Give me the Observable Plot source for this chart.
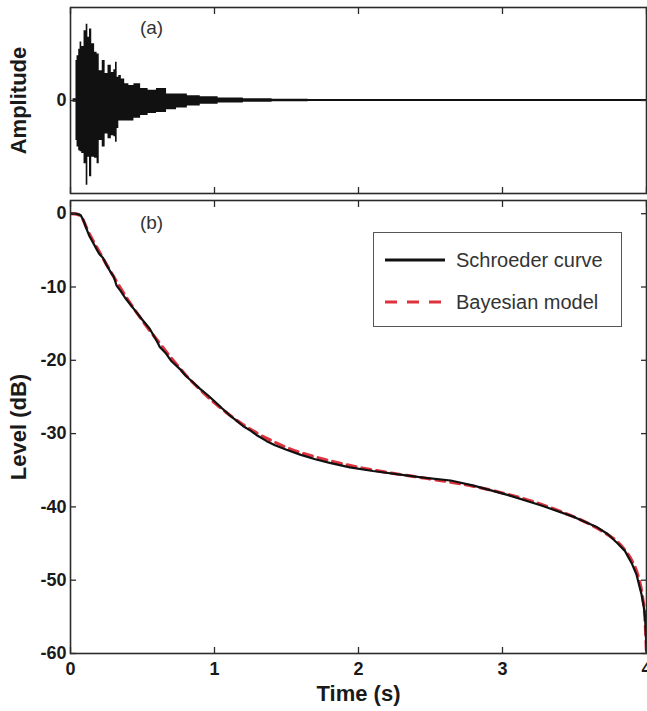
<!DOCTYPE html>
<html><head><meta charset="utf-8">
<script src="https://cdn.jsdelivr.net/npm/d3@7"></script>
<script src="https://cdn.jsdelivr.net/npm/@observablehq/plot@0.6"></script>
<style>
body{margin:0;background:#fff;}
#wrap{position:relative;width:647px;height:711px;font-family:"Liberation Sans",Arial,sans-serif;overflow:hidden;}
#top,#bot{position:absolute;left:0;}
#top{top:0}
#bot{top:196px}
#legend{position:absolute;left:373px;top:232px;width:249px;height:95px;border:1.5px solid #555;background:#fff;box-sizing:border-box}
</style></head><body>
<div id="wrap"><div id="top"></div><div id="bot"></div><div id="legend"></div></div>
<script>
// (a) impulse response: envelope (time in s, amplitude normalised)
const irTime  = [0, 0.036, 0.040, 0.051, 0.063, 0.070, 0.086, 0.102, 0.116, 0.125, 0.139, 0.156, 0.179, 0.190, 0.209, 0.232, 0.249, 0.272, 0.295, 0.307, 0.318, 0.330, 0.341, 0.365, 0.388, 0.423, 0.458, 0.516, 0.562, 0.632, 0.702, 0.771, 0.852, 0.95, 1.1, 1.3, 1.5, 1.8, 2.2, 2.6, 3.0, 3.5, 4.0];
const irUpper = [0, 0.02, 0.43, 0.48, 0.55, 0.63, 0.58, 0.75, 0.82, 0.68, 0.77, 0.61, 0.52, 0.50, 0.32, 0.43, 0.29, 0.38, 0.30, 0.33, 0.41, 0.25, 0.27, 0.23, 0.18, 0.16, 0.18, 0.13, 0.11, 0.13, 0.07, 0.07, 0.05, 0.04, 0.028, 0.018, 0.014, 0.012, 0.012, 0.012, 0.012, 0.012, 0.012];
const irLower = [0, -0.02, -0.43, -0.50, -0.54, -0.55, -0.57, -0.68, -0.91, -0.61, -0.82, -0.61, -0.62, -0.68, -0.43, -0.50, -0.36, -0.41, -0.38, -0.39, -0.45, -0.30, -0.22, -0.22, -0.22, -0.22, -0.19, -0.16, -0.14, -0.13, -0.10, -0.08, -0.06, -0.04, -0.028, -0.018, -0.014, -0.012, -0.012, -0.012, -0.012, -0.012, -0.012];

// (b) Schroeder decay curve (dB)
const schTime  = [0, 0.04, 0.07, 0.09, 0.11, 0.13, 0.155, 0.18, 0.20, 0.225, 0.25, 0.28, 0.30, 0.32, 0.35, 0.38, 0.42, 0.46, 0.50, 0.55, 0.60, 0.62, 0.66, 0.70, 0.76, 0.80, 0.85, 0.90, 0.95, 1.00, 1.05, 1.10, 1.15, 1.20, 1.25, 1.30, 1.36, 1.42, 1.50, 1.60, 1.70, 1.80, 1.94, 2.10, 2.29, 2.45, 2.64, 2.80, 3.04, 3.27, 3.50, 3.65, 3.73, 3.80, 3.85, 3.90, 3.93, 3.965, 3.98, 3.99, 3.995, 4.00];
const schLevel = [0, 0, -0.2, -0.9, -2.0, -3.0, -3.9, -4.8, -5.5, -6.0, -7.0, -8.0, -8.6, -9.8, -10.6, -11.5, -12.5, -13.5, -14.5, -15.7, -17.4, -18.2, -19.0, -20.1, -21.2, -22.1, -23.0, -23.9, -24.7, -25.6, -26.5, -27.4, -28.2, -29.0, -29.6, -30.3, -31.0, -31.6, -32.2, -32.9, -33.5, -34.0, -34.6, -35.1, -35.6, -36.0, -36.4, -37.1, -38.4, -39.8, -41.4, -42.7, -43.7, -45.0, -46.0, -47.8, -49.2, -51.9, -53.5, -55.0, -57.0, -59.8];

// (b) Bayesian model (dB)
const bayTime  = [0, 0.05, 0.08, 0.12, 0.2, 0.3, 0.4, 0.5, 0.6, 0.7, 0.8, 0.9, 1.0, 1.1, 1.2, 1.3, 1.4, 1.5, 1.6, 1.8, 2.0, 2.2, 2.4, 2.6, 2.8, 3.0, 3.2, 3.4, 3.6, 3.7, 3.8, 3.85, 3.9, 3.94, 3.97, 3.99, 4.0];
const bayLevel = [0, -0.1, -0.6, -2.3, -5.2, -8.6, -11.8, -14.6, -17.2, -19.7, -22.0, -24.0, -25.8, -27.4, -28.8, -30.0, -31.0, -31.9, -32.6, -33.7, -34.6, -35.3, -35.9, -36.5, -37.2, -38.1, -39.2, -40.6, -42.3, -43.4, -44.8, -45.9, -47.4, -49.3, -52.0, -55.5, -60.0];

const timeTicks  = [0, 1, 2, 3, 4];
const levelTicks = [0, -10, -20, -30, -40, -50, -60];
const ampTicks   = [0];
const seriesNames = ["Schroeder curve", "Bayesian model"];
const panelLabels = ["(a)", "(b)"];
const ampTitle = "Amplitude";
const levelTitle = "Level (dB)";
const timeTitle = "Time (s)";

const ink = "#2b2b2b";
const red = "#e0323c";
const fmt = d => String(d);
const blank = () => "";

const common = {
  width: 647, marginLeft: 70, marginRight: 1,
  x: {domain: [0, 4], label: null},
  style: {fontFamily: '"Liberation Sans", Arial, sans-serif', fontSize: "18px", fontWeight: "bold", color: "#1a1a1a", background: "transparent", overflow: "visible"}
};

const ir = irTime.map((t, i) => ({t, lo: irLower[i], hi: irUpper[i]}));
const sch = schTime.map((t, i) => ({t, L: schLevel[i]}));
const bay = bayTime.map((t, i) => ({t, L: bayLevel[i]}));

const titleOpts = {text: d => d, frameAnchor: "left", dx: -52, rotate: -90, fontSize: 22, textAnchor: "middle", lineAnchor: "middle"};

const topPlot = Plot.plot({
  ...common, height: 196, marginTop: 7, marginBottom: 3,
  y: {domain: [-1, 1], label: null},
  marks: [
    Plot.areaY(ir, {x: "t", y1: "lo", y2: "hi", fill: "#111", curve: "step"}),
    Plot.axisX(timeTicks, {anchor: "bottom", tickSize: -6, tickFormat: blank, stroke: ink, strokeWidth: 1.3}),
    Plot.axisX(timeTicks, {anchor: "top", tickSize: -6, tickFormat: blank, stroke: ink, strokeWidth: 1.3}),
    Plot.axisY(ampTicks, {anchor: "left", tickSize: -6, tickPadding: 10, tickFormat: fmt, stroke: ink, strokeWidth: 1.3}),
    Plot.axisY(ampTicks, {anchor: "right", tickSize: -6, tickFormat: blank, stroke: ink, strokeWidth: 1.3}),
    Plot.frame({stroke: ink, strokeWidth: 1.6}),
    Plot.text([panelLabels[0]], {text: d => d, frameAnchor: "top-left", dx: 81, dy: 20, textAnchor: "middle", lineAnchor: "middle", fontWeight: "normal", fontSize: 19, fill: "#333"}),
    Plot.text([ampTitle], titleOpts)
  ]
});

const botPlot = Plot.plot({
  ...common, height: 515, marginTop: 4, marginBottom: 58,
  y: {domain: [-60, 1.8], label: null},
  marks: [
    Plot.line(bay, {x: "t", y: "L", stroke: red, strokeWidth: 3.2, strokeDasharray: "9,6", curve: "monotone-x", clip: true}),
    Plot.line(sch, {x: "t", y: "L", stroke: "#111", strokeWidth: 2.2, clip: true}),
    Plot.axisX(timeTicks, {anchor: "bottom", tickSize: -6, tickPadding: 15, tickFormat: fmt, stroke: ink, strokeWidth: 1.3}),
    Plot.axisX(timeTicks, {anchor: "top", tickSize: -6, tickFormat: blank, stroke: ink, strokeWidth: 1.3}),
    Plot.axisY(levelTicks, {anchor: "left", tickSize: -6, tickPadding: 10, tickFormat: fmt, stroke: ink, strokeWidth: 1.3}),
    Plot.axisY(levelTicks, {anchor: "right", tickSize: -6, tickFormat: blank, stroke: ink, strokeWidth: 1.3}),
    Plot.frame({stroke: ink, strokeWidth: 1.6}),
    Plot.text([panelLabels[1]], {text: d => d, frameAnchor: "top-left", dx: 81, dy: 22, textAnchor: "middle", lineAnchor: "middle", fontWeight: "normal", fontSize: 19, fill: "#333"}),
    Plot.text([levelTitle], titleOpts),
    Plot.text([timeTitle], {text: d => d, frameAnchor: "bottom", dy: 40, fontSize: 22, textAnchor: "middle", lineAnchor: "middle"})
  ]
});

document.getElementById("top").appendChild(topPlot);
document.getElementById("bot").appendChild(botPlot);

// legend inside panel (b)
const ns = "http://www.w3.org/2000/svg";
const lg = document.createElementNS(ns, "svg");
lg.setAttribute("width", 246); lg.setAttribute("height", 92);
const styles = [{stroke: "#111", dash: null, w: 3}, {stroke: red, dash: "12,10", w: 3}];
seriesNames.forEach((name, i) => {
  const y = 27 + i * 42;
  const ln = document.createElementNS(ns, "line");
  ln.setAttribute("x1", 11); ln.setAttribute("x2", 71);
  ln.setAttribute("y1", y); ln.setAttribute("y2", y);
  ln.setAttribute("stroke", styles[i].stroke); ln.setAttribute("stroke-width", styles[i].w);
  if (styles[i].dash) ln.setAttribute("stroke-dasharray", styles[i].dash);
  lg.appendChild(ln);
  const tx = document.createElementNS(ns, "text");
  tx.setAttribute("x", 82); tx.setAttribute("y", y);
  tx.setAttribute("dominant-baseline", "central");
  tx.setAttribute("font-family", '"Liberation Sans", Arial, sans-serif');
  tx.setAttribute("font-size", 20);
  tx.setAttribute("fill", "#333");
  tx.textContent = name;
  lg.appendChild(tx);
});
document.getElementById("legend").appendChild(lg);
</script>
</body></html>
